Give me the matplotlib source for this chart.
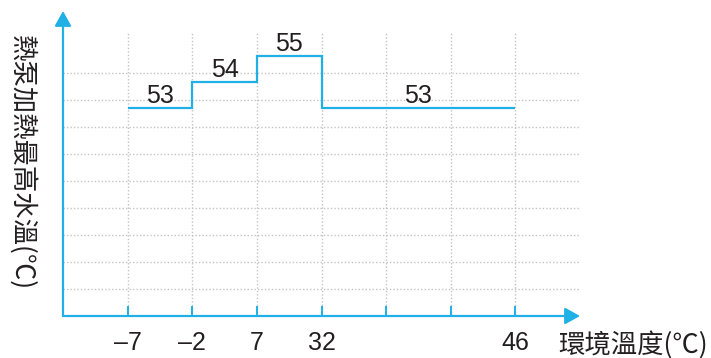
import matplotlib
matplotlib.use('Agg')
from matplotlib import pyplot as plt
import numpy as np

# data
edges = [1, 2, 3, 4, 7]            # category positions where the steps change
values = [53, 54, 55, 53]          # max water temp per step
tick_pos = [1, 2, 3, 4, 5, 6, 7]
tick_labels = ['–7', '–2', '7', '32', '', '', '46']
x_label = '環境溫度(℃)'
y_label = '熱泵加熱最高水溫(℃)'

blue = '#1fb0e6'
grid_c = '#c4c4c4'
text_c = '#231f20'
num_font = ['Liberation Sans', 'DejaVu Sans']
cjk_font = ['Noto Sans CJK TC', 'DejaVu Sans']

W, H = 711, 358
fig = plt.figure(figsize=(W / 100, H / 100), dpi=100)
ax = fig.add_axes([63 / W, (H - 316) / H, (580 - 63) / W, (316 - 11) / H])

y0 = 45.0
px_deg = 26.0
ax.set_xlim(0, 8)
ax.set_ylim(y0, y0 + 305 / px_deg)

# dotted grid
grid_y = y0 + 27 * np.arange(1, 10) / px_deg
ax.hlines(grid_y, 0, 8, colors=grid_c, linestyles=(0, (1, 1.5)), lw=1.0, zorder=1)
ax.vlines(tick_pos, y0, y0 + 284 / px_deg, colors=grid_c, linestyles=(0, (1, 1.5)), lw=1.0, zorder=1)

# step line
ax.stairs(values, edges, baseline=None, color=blue, lw=1.6, zorder=3)

for i, v in enumerate(values):
    xm = (edges[i] + edges[i + 1]) / 2
    ax.annotate(str(v), (xm, v), xytext=(0, 0), textcoords='offset points',
                ha='center', va='bottom', fontsize=18, family=num_font, color=text_c)

# axes as arrows
for s in ax.spines.values():
    s.set_visible(False)
ax.annotate('', xy=(0, 1), xytext=(0, 0), xycoords='axes fraction',
            arrowprops=dict(arrowstyle='-|>,head_length=0.9,head_width=0.5', color=blue, lw=1.6,
                            shrinkA=0, shrinkB=0))
ax.annotate('', xy=(1, 0), xytext=(0, 0), xycoords='axes fraction',
            arrowprops=dict(arrowstyle='-|>,head_length=0.9,head_width=0.5', color=blue, lw=1.6,
                            shrinkA=0, shrinkB=0))

ax.set_yticks([])
ax.set_xticks(tick_pos)
ax.set_xticklabels(tick_labels, fontsize=18, family=num_font, color=text_c)
ax.tick_params(axis='x', direction='in', length=7, width=1.4, color=blue, pad=11)

fig.text(708 / W, (H - 345) / H, x_label, ha='right', va='center',
         fontsize=19, family=cjk_font, color=text_c)
fig.text(22 / W, (H - 163) / H, y_label, ha='center', va='center', rotation=270,
         fontsize=19, family=cjk_font, color=text_c)

fig.savefig('out.png', dpi=100)
